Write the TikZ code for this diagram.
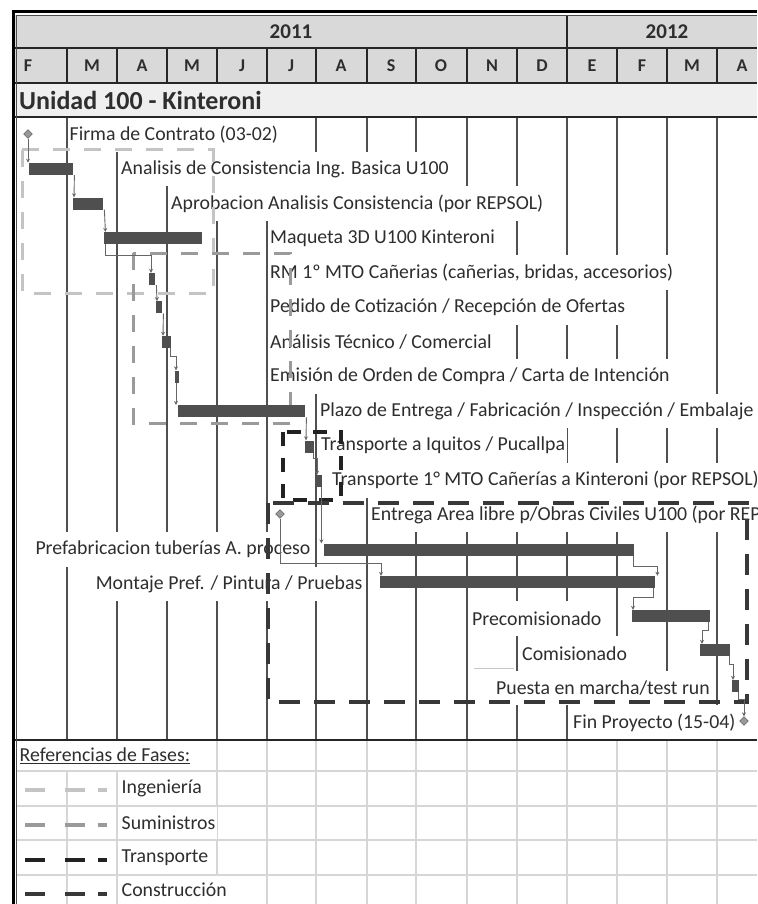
\documentclass[tikz,border=0pt]{standalone}
\usepackage{fontspec}
\setmainfont{Carlito}
\usetikzlibrary{shapes.geometric,arrows.meta}
\definecolor{txt}{HTML}{2E2E2E}
\definecolor{gridc}{HTML}{505050}
\definecolor{barc}{HTML}{4F4F4F}
\definecolor{hdr}{HTML}{D9D9D9}
\definecolor{unid}{HTML}{EFEFEF}
\definecolor{ingc}{HTML}{C4C4C4}
\definecolor{sumc}{HTML}{9A9A9A}
\definecolor{trac}{HTML}{222222}
\definecolor{conc}{HTML}{383838}
\definecolor{lgrid}{HTML}{D6D6D6}
\begin{document}
\begin{tikzpicture}[x=1pt,y=-1pt,
  lbl/.style={font=\fontsize{19.8}{22}\selectfont, text=txt, fill=white, inner xsep=1.5pt, inner ysep=0pt, minimum height=34.6pt},
  hdrtxt/.style={font=\bfseries\fontsize{18}{20}\selectfont, text=txt, inner sep=0pt},
  bar/.style={fill=barc, draw=none, inner sep=0pt, minimum height=12pt, anchor=west},
  mile/.style={diamond, fill=gray!80!white, draw=gray!60!black, line width=0.4pt, inner sep=0pt, minimum size=9pt},
  link/.style={draw=gray!80!black, line width=0.9pt, -{Stealth[length=4pt,width=4pt]}},
  gridl/.style={draw=gridc, line width=2pt},
  lgridl/.style={draw=lgrid, line width=1.3pt},
  border/.style={draw=black!85, line width=2pt},
  phase/.style={line width=3.5pt, dash pattern=on 17pt off 14pt},
  leglbl/.style={font=\fontsize{19.8}{22}\selectfont, text=txt, fill=white, inner xsep=1.5pt, inner ysep=0pt, minimum height=33pt, anchor=west},
]
\useasboundingbox (0,0) rectangle (757,904);
\clip (0,0) rectangle (757,904);
\fill[white] (0,0) rectangle (757,904);

% header fills
\fill[hdr] (15,15) rectangle (757,83);
\fill[unid] (15,83) rectangle (757,117);

% chart gridlines
\foreach \x in {67,117,167,217,267,316,367,416,467,517,567,617,667,717}
  \draw[gridl] (\x,117) -- (\x,740);
% legend gridlines (vertical)
\foreach \x in {67,117,167,217,267,316,367,416,467,517,567,617,667,717}
  \draw[lgridl] (\x,740) -- (\x,904);

% task labels
\node[lbl, anchor=west] (t1) at (68,134.3) {Firma de Contrato (03-02)};
\node[lbl, anchor=west] (t2) at (119.5,168.9) {Analisis de Consistencia Ing. Basica U100};
\node[lbl, anchor=west] (t3) at (169.5,203.5) {Aprobacion Analisis Consistencia (por REPSOL)};
\node[lbl, anchor=west] (t4) at (268.5,238.1) {Maqueta 3D U100 Kinteroni};
\node[lbl, anchor=west] (t5) at (268.5,272.7) {RM 1º MTO Cañerias (cañerias, bridas, accesorios)};
\node[lbl, anchor=west] (t6) at (268.5,307.3) {Pedido de Cotización / Recepción de Ofertas};
\node[lbl, anchor=west] (t7) at (268.5,341.9) {Análisis Técnico / Comercial};
\node[lbl, anchor=west] (t8) at (268.5,376.5) {Emisión de Orden de Compra / Carta de Intención};
\node[lbl, anchor=west] (t9) at (318.5,411.1) {Plazo de Entrega / Fabricación / Inspección / Embalaje};
\node[lbl, anchor=west] (t10) at (319.5,445.7) {Transporte a Iquitos / Pucallpa};
\node[lbl, anchor=west] (t11) at (330.5,480.3) {Transporte 1° MTO Cañerías a Kinteroni (por REPSOL)};
\node[lbl, anchor=west] (t12) at (369.5,514.9) {Entrega Area libre p/Obras Civiles U100 (por REPSOL)};
\node[lbl, anchor=east] (t13) at (312,549.5) {Prefabricacion tuberías A. proceso};
\node[lbl, anchor=east] (t14) at (364,584.1) {Montaje Pref. / Pintura / Pruebas};
\node[lbl, anchor=west] (t15) at (470.5,618.7) {Precomisionado};
\node[lbl, anchor=west] (t16) at (520.5,653.3) {Comisionado};
\node[lbl, anchor=west] (t17) at (494.5,687.9) {Puesta en marcha/test run};
\node[lbl, anchor=west] (t18) at (571.5,722.5) {Fin Proyecto (15-04)};
\draw[gray!45, line width=0.8pt] (474,668) -- (514,668);

% phase boxes
\draw[phase, ingc, line width=3pt] (22,150) rectangle (213,293);
\draw[phase, sumc, line width=3pt] (133,253) rectangle (290,423);
\draw[phase, trac, line width=4pt, dash pattern=on 14pt off 12pt] (283,432) rectangle (341,500);
\draw[phase, conc, line width=4pt, dash pattern=on 21pt off 14pt] (268,503) rectangle (747,702);

% bars and milestones
\node[mile] (m1) at (28,134) {};
\node[bar, minimum width=44pt] (b2) at (29,168.9) {};
\node[bar, minimum width=30pt] (b3) at (73,203.5) {};
\node[bar, minimum width=98pt] (b4) at (104,238.1) {};
\node[bar, minimum width=6pt] (b5) at (149,279) {};
\node[bar, minimum width=6pt] (b6) at (156,307.3) {};
\node[bar, minimum width=9pt] (b7) at (162,341.9) {};
\node[bar, minimum width=3.5pt] (b8) at (175,376.5) {};
\node[bar, minimum width=127pt] (b9) at (178,411.1) {};
\node[bar, minimum width=9pt] (b10) at (305,446.5) {};
\node[bar, minimum width=6pt] (b11) at (316,481) {};
\node[mile] (m12) at (280,514) {};
\node[bar, minimum width=310pt] (b13) at (324,549.5) {};
\node[bar, minimum width=275pt] (b14) at (380,582) {};
\node[bar, minimum width=78pt] (b15) at (632,616) {};
\node[bar, minimum width=30pt] (b16) at (700,650) {};
\node[bar, minimum width=7pt] (b17) at (732,686) {};
\node[mile] (m18) at (744,721) {};

% dependency links
\draw[link] (m1.south) -- (m1.south |- b2.north);
\draw[link] ([xshift=1pt]b2.south east) -- ([xshift=1pt]b3.north west);
\draw[link] ([xshift=1pt]b3.south east) -- ([xshift=2pt]b3.south east |- b4.north);
\draw[link] ([xshift=1pt]b4.south west) -- ++(0,11) -| ([xshift=2pt]b5.north west);
\draw[link] ([xshift=1pt]b5.south east) -- ([xshift=1pt]b6.north west);
\draw[link] ([xshift=1pt]b6.north east |- b6.south) -- ([xshift=1pt]b7.north west);
\draw[link] ([xshift=-1pt]b7.south east) -- ++(0,8) -| ([xshift=1pt]b8.north west);
\draw[link] ([xshift=1pt]b8.south west) -- ([xshift=1pt]b8.south west |- b9.north);
\draw[link] ([xshift=1pt]b9.south east) -- ([xshift=1pt]b10.north west);
\draw[link] ([xshift=-1pt]b10.south east) -- ++(0,6) -| ([xshift=1pt]b11.north west);
\draw[link] ([xshift=-1pt]b11.south east) -- ([xshift=-1pt]b11.south east |- b13.north);
\draw[link] (m12.south) -- ++(0,45) -| ([xshift=1pt]b14.north west);
\draw[link] ([xshift=-1pt]b13.south east) -- ++(0,11) -| ([xshift=2pt]b14.north east);
\draw[link] ([xshift=-2pt]b14.south east) -- ++(0,9) -| ([xshift=1pt]b15.north west);
\draw[link] ([xshift=-2pt]b15.south east) -- ++(0,8) -| ([xshift=2pt]b16.north west);
\draw[link] ([xshift=-1pt]b16.south east) -- ++(0,8) -| ([xshift=1pt]b17.north west);
\draw[link] ([xshift=-1pt]b17.south east) -- ++(0,7) -| (m18.north);

% header borders and labels
\draw[border] (15,48) -- (757,48);
\draw[border] (15,83) -- (757,83);
\draw[border] (15,117) -- (757,117);
\draw[border] (15,740) -- (757,740);
\draw[border] (567,15) -- (567,48);
\foreach \x in {67,117,167,217,267,316,367,416,467,517,567,617,667,717}
  \draw[border] (\x,48) -- (\x,83);
\node[hdrtxt, font=\bfseries\fontsize{21}{22}\selectfont] (y2011) at (291,32) {2011};
\node[hdrtxt, font=\bfseries\fontsize{21}{22}\selectfont] (y2012) at (667,32) {2012};
\foreach \c/\m [count=\i] in {28/F,92/M,142/A,192/M,242/J,291/J,341/A,391/S,441/O,492/N,542/D,592/E,642/F,692/M,742/A}
  \node[hdrtxt] (mo\i) at (\c,66) {\m};
\node[anchor=west, font=\bfseries\fontsize{26}{28}\selectfont, text=txt, inner sep=0pt] (unidad) at (19,100.5) {Unidad 100 - Kinteroni};

% legend
\node[leglbl, minimum height=29pt] (ref) at (18,755.5) {\raisebox{-6pt}{\underline{Referencias de Fases:}}};
\node[leglbl] (lg1) at (120,788.5) {\raisebox{-6pt}{Ingeniería}};
\node[leglbl] (lg2) at (120,823) {\raisebox{-6pt}{Suministros}};
\node[leglbl] (lg3) at (120,857.5) {\raisebox{-6pt}{Transporte}};
\node[leglbl] (lg4) at (120,890) {\raisebox{-6pt}{Construcción}};
\foreach \y in {771,806,840,875}
  \draw[lgridl] (17,\y) -- (757,\y);
\draw[ingc, line width=3.5pt] (25,790) -- (45,790) (65,790) -- (85,790) (98,790) -- (107,790);
\draw[sumc, line width=3.5pt] (25,825) -- (45,825) (65,825) -- (85,825) (98,825) -- (107,825);
\draw[trac, line width=3.5pt] (25,860) -- (45,860) (65,860) -- (85,860) (98,860) -- (107,860);
\draw[conc, line width=3.5pt] (25,894) -- (45,894) (65,894) -- (85,894) (98,894) -- (107,894);

% outer frame
\draw[black, line width=3pt] (13,904) -- (13,12) -- (757,12);
\draw[black!70, line width=1pt] (16.5,904) -- (16.5,15.5) -- (757,15.5);
\end{tikzpicture}
\end{document}
